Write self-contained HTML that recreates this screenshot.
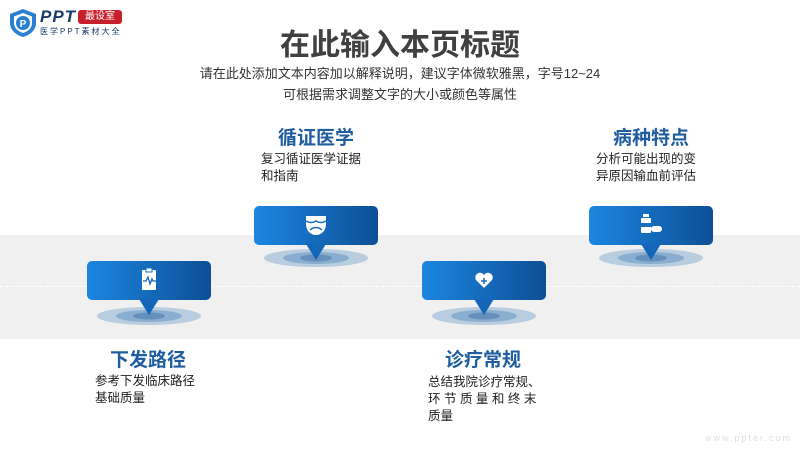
<!DOCTYPE html>
<html><head><meta charset="utf-8"><style>
body{margin:0;width:800px;height:450px;position:relative;background:#fff;overflow:hidden;font-family:"Liberation Sans","Noto Sans CJK SC",sans-serif}
.a{position:absolute}
.t{position:absolute;font-size:19px;font-weight:bold;color:#1f5d9e;white-space:nowrap;transform:translateX(-50%)}
.d{position:absolute;font-size:12.5px;line-height:17px;color:#222;white-space:nowrap}
</style></head><body>
<div class="a" style="left:0;top:235px;width:800px;height:104px;background:#f0f0f0"></div>
<div class="a" style="left:0;top:286px;width:800px;border-top:1.5px dashed #fff"></div>
<!-- logo -->
<svg class="a" style="left:8px;top:8px" width="30" height="30" viewBox="0 0 30 30"><path d="M15 1 L28 6 V15 C28 22 22 27 15 29 C8 27 2 22 2 15 V6Z" fill="#2a7fd0"/><path d="M15 5 L24 8.5 V15 C24 20 20 23.5 15 25 C10 23.5 6 20 6 15 V8.5Z" fill="#fff"/><circle cx="15" cy="15" r="7" fill="#2a7fd0"/><text x="15" y="19" font-size="10" font-weight="bold" fill="#fff" text-anchor="middle" font-family="Liberation Sans">P</text></svg>
<div class="a" style="left:40px;top:7px;font-size:17px;font-weight:bold;font-style:italic;color:#1a3a6a;letter-spacing:1px">PPT</div>
<div class="a" style="left:78px;top:10px;width:44px;height:14px;background:#c8202a;border-radius:3px;color:#fff;font-size:10px;text-align:center;line-height:14px">最设室</div>
<div class="a" style="left:40px;top:26px;font-size:8px;color:#1a3a6a;letter-spacing:2px">医学PPT素材大全</div>
<div class="a" style="left:0;width:800px;top:20px;text-align:center;font-size:30px;font-weight:bold;color:#404040">在此输入本页标题</div>
<div class="a" style="left:0;width:800px;top:63px;text-align:center;font-size:13px;line-height:21px;color:#333">请在此处添加文本内容加以解释说明，建议字体微软雅黑，字号12~24<br>可根据需求调整文字的大小或颜色等属性</div>
<svg class="a" style="left:0;top:0" width="800" height="450">
<defs><linearGradient id="g" x1="0" x2="1"><stop offset="0" stop-color="#1c86e0"/><stop offset="1" stop-color="#0d4f96"/></linearGradient></defs>
<g transform="translate(87,261)">
<ellipse cx="62" cy="55" rx="52" ry="9" fill="#b8cde0"/><ellipse cx="62" cy="55" rx="33" ry="6" fill="#8aaed0"/><ellipse cx="62" cy="55" rx="16" ry="3.5" fill="#6590bd"/>
<rect x="0" y="0" width="124" height="39" rx="5" fill="url(#g)"/><path d="M52 38 L62 54 L72 38Z" fill="#1466b8"/></g>
<g transform="translate(254,206)">
<ellipse cx="62" cy="52" rx="52" ry="9" fill="#b8cde0"/><ellipse cx="62" cy="52" rx="33" ry="6" fill="#8aaed0"/><ellipse cx="62" cy="52" rx="16" ry="3.5" fill="#6590bd"/>
<rect x="0" y="0" width="124" height="39" rx="5" fill="url(#g)"/><path d="M52 38 L62 54 L72 38Z" fill="#1466b8"/></g>
<g transform="translate(422,261)">
<ellipse cx="62" cy="55" rx="52" ry="9" fill="#b8cde0"/><ellipse cx="62" cy="55" rx="33" ry="6" fill="#8aaed0"/><ellipse cx="62" cy="55" rx="16" ry="3.5" fill="#6590bd"/>
<rect x="0" y="0" width="124" height="39" rx="5" fill="url(#g)"/><path d="M52 38 L62 54 L72 38Z" fill="#1466b8"/></g>
<g transform="translate(589,206)">
<ellipse cx="62" cy="52" rx="52" ry="9" fill="#b8cde0"/><ellipse cx="62" cy="52" rx="33" ry="6" fill="#8aaed0"/><ellipse cx="62" cy="52" rx="16" ry="3.5" fill="#6590bd"/>
<rect x="0" y="0" width="124" height="39" rx="5" fill="url(#g)"/><path d="M52 38 L62 54 L72 38Z" fill="#1466b8"/></g>
<!-- icons -->
<rect x="142" y="270" width="14" height="20" rx="1" fill="#fff"/><rect x="146" y="268" width="6" height="4" fill="#fff" stroke="#1a6fc0" stroke-width="1"/><path d="M143 281 h3 l2 -4 l2 7 l2 -5 l1 2 h3" stroke="#1466b8" stroke-width="1.3" fill="none"/>
<path d="M306 216 h20 v8 c0 7 -5 11 -10 11 c-5 0 -10 -4 -10 -11z" fill="#fff"/><path d="M306 221 q5 3 10 0 q5 3 10 0" stroke="#1a6fc0" stroke-width="1.5" fill="none"/><path d="M310 230 q6 -5 12 0" stroke="#1a6fc0" stroke-width="1.5" fill="none"/>
<path d="M484 288 l-8 -8 a4.5 4.5 0 0 1 8 -5 a4.5 4.5 0 0 1 8 5z" fill="#fff"/><path d="M484 278 v6 M481 281 h6" stroke="#1a6fc0" stroke-width="1.5"/>
<rect x="643" y="214" width="6" height="3" fill="#fff"/><rect x="641" y="218" width="10" height="15" rx="1" fill="#fff"/><rect x="641" y="223" width="10" height="4" fill="#1a6fc0"/><rect x="651" y="226" width="11" height="6" rx="3" fill="#fff"/>
</svg>
<div class="t" style="left:148px;top:345px">下发路径</div>
<div class="d" style="left:95px;top:373px">参考下发临床路径<br>基础质量</div>
<div class="t" style="left:316px;top:123px">循证医学</div>
<div class="d" style="left:261px;top:151px">复习循证医学证据<br>和指南</div>
<div class="t" style="left:483px;top:345px">诊疗常规</div>
<div class="d" style="left:428px;top:374px">总结我院诊疗常规、<br>环 节 质 量 和 终 末<br>质量</div>
<div class="t" style="left:651px;top:123px">病种特点</div>
<div class="d" style="left:596px;top:151px">分析可能出现的变<br>异原因输血前评估</div>
<div class="a" style="left:705px;top:433px;font-size:9px;color:#ddd;letter-spacing:2px">www.ppter.com</div>
</body></html>
